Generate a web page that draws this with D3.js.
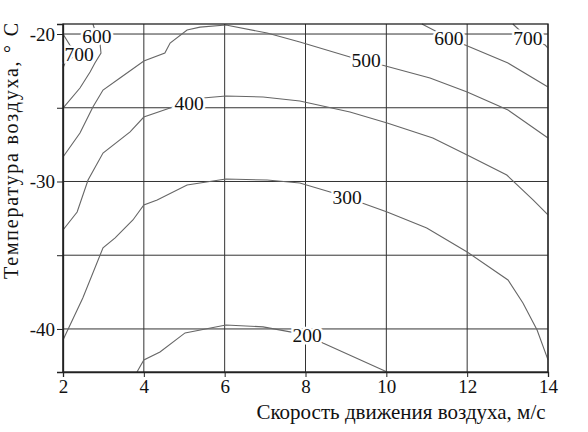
<!DOCTYPE html>
<html>
  <head>
    <meta charset="utf-8" />
    <title>Contours</title>
    <script src="https://d3js.org/d3.v7.min.js"></script>
    <style>
        body {margin: 0; background: #fff;}
        text {font-family: "Liberation Serif", "Times New Roman", serif; fill: #111;}
    </style>
  </head>
  <body>

    <svg id="chart" width="588" height="432"></svg>

    <script>

        // axis values
        var xTicks = [2, 4, 6, 8, 10, 12, 14];
        var yTicks = [-20, -25, -30, -35, -40];
        var yLabelled = [-20, -30, -40];

        // contour lines: [speed m/s, temperature C], label = index of point carrying the number
        var c200 = [[3.83,-42.92],[4.0,-42.1],[4.4,-41.56],[5.02,-40.27],[6.03,-39.73],[6.95,-39.86],[7.62,-40.2],[8.04,-40.41],[8.43,-40.95],[10.02,-42.92]];
        var c300 = [[2.0,-40.75],[2.49,-37.9],[2.99,-34.5],[3.29,-33.83],[3.73,-32.61],[4.0,-31.59],[4.33,-31.25],[5.07,-30.24],[6.03,-29.83],[7.05,-29.9],[7.86,-30.1],[8.61,-30.71],[9.03,-31.05],[9.4,-31.46],[10.02,-32.07],[11.0,-33.15],[12.0,-34.78],[13.01,-36.68],[13.38,-38.24],[13.73,-40.07],[14.0,-42.1]];
        var c400 = [[2.0,-33.29],[2.35,-32.07],[2.62,-29.9],[2.99,-28.07],[3.66,-26.64],[4.0,-25.63],[4.72,-24.95],[5.12,-24.68],[5.46,-24.34],[6.03,-24.2],[6.95,-24.27],[7.86,-24.54],[9.1,-25.29],[10.02,-26.03],[11.15,-27.05],[12.0,-28.2],[12.98,-29.56],[13.63,-31.25],[14.0,-32.27]];
        var c500 = [[2.0,-28.34],[2.42,-26.71],[2.74,-24.95],[2.99,-23.8],[3.41,-22.98],[4.0,-21.83],[4.52,-21.29],[4.65,-20.61],[5.07,-19.73],[5.39,-19.53],[6.03,-19.39],[7.05,-19.93],[7.86,-20.54],[9.1,-21.56],[9.5,-21.76],[9.89,-22.1],[11.08,-22.98],[12.0,-23.93],[13.01,-25.15],[14.0,-27.05]];
        var c600a = [[2.74,-19.32],[2.84,-20.14],[2.92,-20.75],[2.94,-21.29],[2.79,-21.97],[2.67,-22.58],[2.42,-23.66],[2.0,-25.02]];
        var c600b = [[10.88,-19.32],[11.55,-20.27],[11.95,-20.75],[13.01,-21.97],[14.0,-23.59]];
        var c700a = [[2.0,-20.0],[2.17,-20.75],[2.4,-21.36],[2.07,-21.83],[2.0,-22.31]];
        var c700b = [[13.13,-19.32],[13.5,-20.27],[13.93,-20.75],[14.0,-20.95]];

        var contours = [
            {value: 200, points: c200, label: 7},
            {value: 300, points: c300, label: 12},
            {value: 400, points: c400, label: 7},
            {value: 500, points: c500, label: 14},
            {value: 600, points: c600a, label: 1},
            {value: 600, points: c600b, label: 1},
            {value: 700, points: c700a, label: 2},
            {value: 700, points: c700b, label: 1}
        ];

        var pLeft = 63, pRight = 548, pTop = 24, pBottom = 372;

        var svg = d3.select("#chart");

        var x = d3.scaleLinear().domain([2, 14]).range([pLeft, pRight]);
        var y = d3.scaleLinear().domain([-42.92, -19.32]).range([pBottom, pTop]);

        // grid
        svg.append("g").selectAll("line")
            .data(xTicks)
            .enter().append("line")
            .attr("x1", function(d){ return x(d); })
            .attr("x2", function(d){ return x(d); })
            .attr("y1", pTop).attr("y2", pBottom)
            .attr("stroke", "#333").attr("stroke-width", 1);

        svg.append("g").selectAll("line")
            .data(yTicks)
            .enter().append("line")
            .attr("x1", pLeft).attr("x2", pRight)
            .attr("y1", function(d){ return y(d); })
            .attr("y2", function(d){ return y(d); })
            .attr("stroke", "#333").attr("stroke-width", 1);

        // contour lines
        var line = d3.line()
            .x(function(d){ return x(d[0]); })
            .y(function(d){ return y(d[1]); });

        svg.append("g").selectAll("path")
            .data(contours)
            .enter().append("path")
            .attr("d", function(d){ return line(d.points); })
            .attr("fill", "none")
            .attr("stroke", "#666")
            .attr("stroke-width", 1.1);

        // frame
        svg.append("rect")
            .attr("x", pLeft).attr("y", pTop)
            .attr("width", pRight - pLeft).attr("height", pBottom - pTop)
            .attr("fill", "none").attr("stroke", "#222").attr("stroke-width", 1.3);

        // contour labels
        svg.append("g").selectAll("text")
            .data(contours)
            .enter().append("text")
            .attr("x", function(d){ return x(d.points[d.label][0]); })
            .attr("y", function(d){ return y(d.points[d.label][1]); })
            .attr("text-anchor", "middle")
            .attr("dy", "0.35em")
            .style("font-size", "19.5px")
            .attr("stroke", "#fff")
            .attr("stroke-width", 5)
            .attr("paint-order", "stroke")
            .text(function(d){ return d.value; });

        // axes
        var xAxis = d3.axisBottom(x).tickValues(xTicks).tickSize(5).tickPadding(3)
            .tickFormat(function(d){ return String(d); });
        var gx = svg.append("g").attr("transform", "translate(0," + pBottom + ")").call(xAxis);

        var yAxis = d3.axisLeft(y).tickValues(yTicks).tickSize(6).tickPadding(2)
            .tickFormat(function(d){ return yLabelled.indexOf(d) >= 0 ? String(d) : ""; });
        var gy = svg.append("g").attr("transform", "translate(" + pLeft + ",0)").call(yAxis);

        [gx, gy].forEach(function(g){
            g.attr("font-family", null).attr("font-size", null);
            g.select(".domain").attr("stroke", "#222").attr("stroke-width", 1.3);
            g.selectAll(".tick line").attr("stroke", "#222");
            g.selectAll(".tick text")
                .style("font-size", "19px")
                .attr("fill", "#111");
        });

        // titles
        svg.append("text")
            .attr("x", 401).attr("y", 419)
            .attr("text-anchor", "middle")
            .style("font-size", "21px")
            .text("Скорость движения воздуха, м/с");

        svg.append("text")
            .attr("transform", "translate(18,151) rotate(-90)")
            .attr("text-anchor", "middle")
            .style("font-size", "20px")
            .attr("textLength", 256)
            .attr("lengthAdjust", "spacing")
            .text("Температура воздуха,  °  С");

    </script>

  </body>
</html>
